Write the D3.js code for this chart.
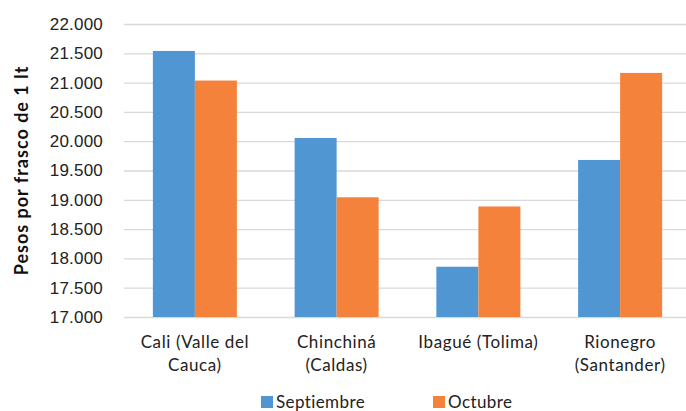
<!DOCTYPE html>
<html>
<head>
<meta charset="utf-8">
<script src="https://cdn.jsdelivr.net/npm/d3@7"></script>
<style>
  html, body { margin: 0; padding: 0; background: #fff; }
  svg { display: block; font-family: Lato, "Open Sans", sans-serif; }
</style>
</head>
<body>
<svg id="chart" width="686" height="411"></svg>
<script>
const categories = [["Cali (Valle del", "Cauca)"], ["Chinchiná", "(Caldas)"], ["Ibagué (Tolima)"], ["Rionegro", "(Santander)"]];
const seriesNames = ["Septiembre", "Octubre"];
const septiembre = [21540, 20055, 17858, 19680];
const octubre = [21035, 19043, 18886, 21165];
const yTicks = [17000, 17500, 18000, 18500, 19000, 19500, 20000, 20500, 21000, 21500, 22000];
const colors = ["#5096d2", "#f5823b"];
const yTitle = "Pesos por frasco de 1 lt";

const svg = d3.select("#chart");
const mLeft = 124, mRight = 691, mTop = 24, mBottom = 317;

const catKeys = categories.map(c => c.join(" "));
const x0 = d3.scaleBand().domain(catKeys).range([mLeft, mRight]).padding(0);
const bw = x0.bandwidth();
const barW = 42;
const x1 = d3.scaleBand().domain(seriesNames).range([bw / 2 - barW, bw / 2 + barW]).padding(0);
const y = d3.scaleLinear().domain([17000, 22000]).range([mBottom, mTop]);

// gridlines + y labels
const yAxis = d3.axisLeft(y).tickValues(yTicks).tickSize(-(686 - mLeft)).tickPadding(22)
  .tickFormat(v => d3.format(",")(v).replace(/,/g, "."));
const ga = svg.append("g").attr("transform", `translate(${mLeft},0)`).call(yAxis);
ga.select(".domain").remove();
ga.selectAll(".tick line").attr("stroke", "#d9d9d9").attr("stroke-width", 1.3);
ga.selectAll(".tick text").attr("fill", "#222").attr("font-size", 17).attr("x", -21)
  .attr("letter-spacing", 0.2);

// bars
const data = catKeys.map((k, i) => ({ k, vals: [septiembre[i], octubre[i]] }));
const groups = svg.append("g").selectAll("g").data(data).join("g")
  .attr("transform", d => `translate(${x0(d.k)},0)`);
groups.selectAll("rect").data(d => d.vals.map((v, j) => ({ v, s: seriesNames[j], j })))
  .join("rect")
  .attr("x", d => x1(d.s))
  .attr("width", x1.bandwidth())
  .attr("y", d => y(d.v))
  .attr("height", d => y(17000) - y(d.v))
  .attr("fill", d => colors[d.j]);

// category labels
const xl = svg.append("g");
categories.forEach((lines, i) => {
  const cx = x0(catKeys[i]) + bw / 2;
  const t = xl.append("text").attr("text-anchor", "middle").attr("font-size", 17)
    .attr("letter-spacing", 0.6).attr("fill", "#222");
  lines.forEach((ln, j) => {
    t.append("tspan").attr("x", cx).attr("y", 348 + j * 23).text(ln);
  });
});

// y title
svg.append("text")
  .attr("transform", `translate(28,${(mTop + mBottom) / 2}) rotate(-90)`)
  .attr("text-anchor", "middle")
  .attr("font-size", 18).attr("font-weight", "bold").attr("letter-spacing", 1).attr("fill", "#111")
  .text(yTitle);

// legend
const legX = [261, 433];
seriesNames.forEach((s, i) => {
  const g = svg.append("g");
  g.append("rect").attr("x", legX[i]).attr("y", 396).attr("width", 12).attr("height", 12).attr("fill", colors[i]);
  g.append("text").attr("x", legX[i] + 15).attr("y", 408).attr("font-size", 17)
    .attr("letter-spacing", 0.4).attr("fill", "#222").text(s);
});
</script>
</body>
</html>
